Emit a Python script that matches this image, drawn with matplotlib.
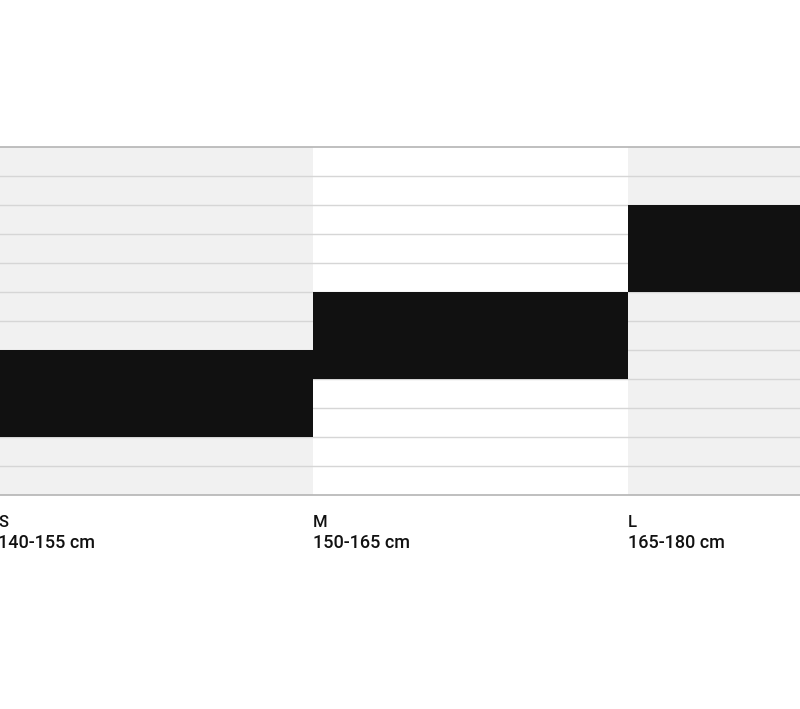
"""
Size chart: body height range per frame size (S / M / L).
"""

import matplotlib
import matplotlib.pyplot as plt

matplotlib.use("Agg")

SIZES = ["S", "M", "L"]
LOW_CM = [140, 150, 165]
HIGH_CM = [155, 165, 180]
RANGE_LABELS = ["140-155 cm", "150-165 cm", "165-180 cm"]

Y_MIN, Y_MAX, STEP = 130, 190, 5

INK = "#111111"
SHADE = "#f1f1f1"
GRID = "#d6d6d6"
FRAME = "#b4b4b4"


def main() -> None:
    fig = plt.figure(figsize=(8.0, 7.09), dpi=100)
    ax = fig.add_axes([0, (709 - 495) / 709, 1, 348 / 709])

    # column pixel = -2 + 315 * x
    ax.set_xlim(2 / 315, 802 / 315)
    ax.set_ylim(Y_MIN, Y_MAX)
    ax.axis("off")

    # alternating column backgrounds
    for i in range(len(SIZES)):
        if i % 2 == 0:
            ax.axvspan(i, i + 1, color=SHADE, lw=0, zorder=0)

    # horizontal grid, one line every 5 cm
    for y in range(Y_MIN + STEP, Y_MAX, STEP):
        ax.axhline(y, color=GRID, lw=1.0, zorder=1)
    for y in (Y_MIN, Y_MAX):
        ax.axhline(y, color=FRAME, lw=1.2, zorder=1, clip_on=False)

    # height range bars
    heights = [h - l for l, h in zip(LOW_CM, HIGH_CM)]
    ax.bar(range(len(SIZES)), heights, bottom=LOW_CM, width=1.0,
           align="edge", color=INK, lw=0, zorder=2)

    # labels under each column (the S label is cut by the left edge, as in the source)
    trans = ax.get_xaxis_transform()
    for i, (size, rng) in enumerate(zip(SIZES, RANGE_LABELS)):
        ax.text(i, -0.092, size, transform=trans, ha="left", va="baseline",
                fontsize=12, family="Roboto", fontweight="medium", color=INK,
                clip_on=False)
        ax.text(i, -0.152, rng, transform=trans, ha="left", va="baseline",
                fontsize=13, family="Roboto", fontweight="medium", color=INK,
                clip_on=False)

    fig.savefig("out.png", dpi=100)
    plt.close(fig)


if __name__ == "__main__":
    main()
